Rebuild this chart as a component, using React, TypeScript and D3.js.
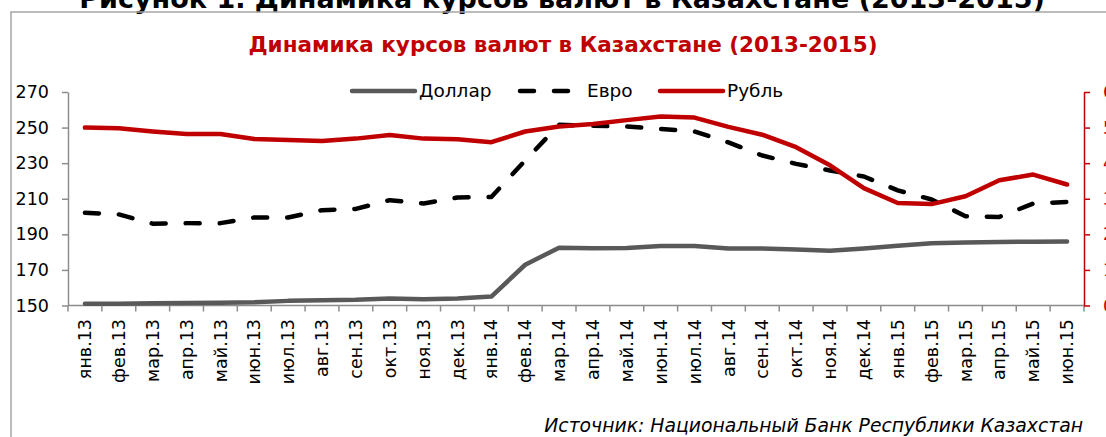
import { useEffect, useRef } from 'react';
import * as d3 from 'd3';

const months = [
  'янв.13', 'фев.13', 'мар.13', 'апр.13', 'май.13', 'июн.13', 'июл.13', 'авг.13', 'сен.13', 'окт.13', 'ноя.13', 'дек.13',
  'янв.14', 'фев.14', 'мар.14', 'апр.14', 'май.14', 'июн.14', 'июл.14', 'авг.14', 'сен.14', 'окт.14', 'ноя.14', 'дек.14',
  'янв.15', 'фев.15', 'мар.15', 'апр.15', 'май.15', 'июн.15',
];

// left axis
const dollar = [
  151.0, 151.0, 151.2, 151.4, 151.5, 151.8, 152.6, 152.9, 153.2, 154.0, 153.5, 154.0,
  155.0, 172.9, 182.5, 182.2, 182.3, 183.4, 183.5, 182.1, 182.0, 181.5, 180.8, 182.0,
  183.6, 185.0, 185.4, 185.7, 185.9, 186.0,
];
const euro = [
  202.1, 201.2, 196.0, 196.3, 196.3, 199.5, 199.5, 203.6, 204.3, 209.2, 207.3, 210.7,
  211.0, 231.5, 251.6, 251.0, 250.6, 249.2, 247.8, 241.7, 234.3, 229.6, 225.9, 222.5,
  214.7, 209.6, 200.2, 199.8, 207.3, 208.2,
];
// right axis
const ruble = [
  5.00, 4.98, 4.89, 4.82, 4.82, 4.68, 4.65, 4.62, 4.69, 4.79, 4.69, 4.67,
  4.59, 4.89, 5.03, 5.10, 5.21, 5.31, 5.28, 5.02, 4.80, 4.45, 3.94, 3.30,
  2.88, 2.85, 3.07, 3.52, 3.68, 3.40,
];

const leftTicks = [150, 170, 190, 210, 230, 250, 270];
const rightTicks = [0, 1, 2, 3, 4, 5, 6];

const outerTitle = 'Рисунок 1. Динамика курсов валют в Казахстане (2013-2015)';
const chartTitle = 'Динамика курсов валют в Казахстане (2013-2015)';
const source = 'Источник: Национальный Банк Республики Казахстан';

const W = 1106;
const H = 437;
const FONT = '"DejaVu Sans", Verdana, sans-serif';
const RED = '#c00000';
const GRAY = '#595959';
const AXIS = '#8c8c8c';

export default function App() {
  const left = 68, right = 1084, top = 92, bottom = 305.5;

  const x = d3.scaleBand().domain(months).range([left, right]);
  const cx = (m: string) => (x(m) ?? 0) + x.bandwidth() / 2;
  const yL = d3.scaleLinear().domain([150, 270]).range([bottom, top]);
  const yR = d3.scaleLinear().domain([0, 6]).range([bottom, top]);

  const lineL = d3.line<number>().x((_, i) => cx(months[i])).y(d => yL(d));
  const lineR = d3.line<number>().x((_, i) => cx(months[i])).y(d => yR(d));

  const leftRef = useRef<SVGGElement>(null);
  const rightRef = useRef<SVGGElement>(null);

  useEffect(() => {
    document.body.style.margin = '0';

    const gl = d3.select(leftRef.current!);
    gl.call(d3.axisLeft(yL).tickValues(leftTicks).tickSize(6).tickSizeOuter(0).tickPadding(13));
    gl.select('.domain').attr('stroke', AXIS).attr('stroke-width', 1.5);
    gl.selectAll('.tick line').attr('stroke', AXIS).attr('stroke-width', 1.5);
    gl.selectAll('.tick text')
      .attr('fill', '#000')
      .style('font-size', '17.5px')
      .style('font-family', FONT);

    const gr = d3.select(rightRef.current!);
    gr.call(d3.axisRight(yR).tickValues(rightTicks).tickSize(6).tickSizeOuter(0).tickPadding(13));
    gr.select('.domain').attr('stroke', RED).attr('stroke-width', 1.5);
    gr.selectAll('.tick line').attr('stroke', RED).attr('stroke-width', 1.5);
    gr.selectAll('.tick text')
      .attr('fill', RED)
      .style('font-size', '17.5px')
      .style('font-family', FONT);
  }, []);

  const bounds = [...months.map(m => x(m) ?? 0), right];

  return (
    <svg width={W} height={H} style={{ display: 'block', background: '#fff' }} fontFamily={FONT}>
      <text x={562} y={8} textAnchor="middle" fontSize={27} fontWeight="bold" fill="#000">
        {outerTitle}
      </text>
      <rect x={11} y={12} width={W + 20} height={H + 20} fill="none" stroke="#a6a6a6" strokeWidth={1.5} />

      <text x={563} y={52} textAnchor="middle" fontSize={21.5} fontWeight="bold" fill={RED}>
        {chartTitle}
      </text>

      {/* legend */}
      <g fontSize={18.5} fill="#000">
        <line x1={352} x2={415} y1={91} y2={91} stroke={GRAY} strokeWidth={4.5} strokeLinecap="round" />
        <text x={419} y={91} dy="0.35em">Доллар</text>
        <line x1={520} x2={571} y1={91} y2={91} stroke="#000" strokeWidth={4.5} strokeLinecap="round" strokeDasharray="14,20" />
        <text x={587} y={91} dy="0.35em">Евро</text>
        <line x1={660} x2={723} y1={91} y2={91} stroke={RED} strokeWidth={4.5} strokeLinecap="round" />
        <text x={727} y={91} dy="0.35em">Рубль</text>
      </g>

      {/* x axis */}
      <line x1={left} x2={right} y1={bottom} y2={bottom} stroke={AXIS} strokeWidth={1.5} />
      {bounds.map((b, i) => (
        <line key={i} x1={b} x2={b} y1={bottom} y2={bottom + 6} stroke={AXIS} strokeWidth={1.5} />
      ))}
      {months.map(m => (
        <text
          key={m}
          transform={`translate(${cx(m)},319) rotate(-90)`}
          textAnchor="end"
          dy="0.35em"
          fontSize={17.5}
          fill="#000"
        >
          {m}
        </text>
      ))}

      <g ref={leftRef} transform={`translate(${left},0)`} />
      <g ref={rightRef} transform={`translate(${right},0)`} />

      <path d={lineL(dollar) ?? ''} fill="none" stroke={GRAY} strokeWidth={4.5} strokeLinecap="round" strokeLinejoin="round" />
      <path d={lineL(euro) ?? ''} fill="none" stroke="#000" strokeWidth={4.5} strokeLinecap="round" strokeLinejoin="round" strokeDasharray="14,20" />
      <path d={lineR(ruble) ?? ''} fill="none" stroke={RED} strokeWidth={4.5} strokeLinecap="round" strokeLinejoin="round" />

      <text x={1083} y={432} textAnchor="end" fontSize={18.8} fontStyle="italic" fill="#000">
        {source}
      </text>
    </svg>
  );
}
